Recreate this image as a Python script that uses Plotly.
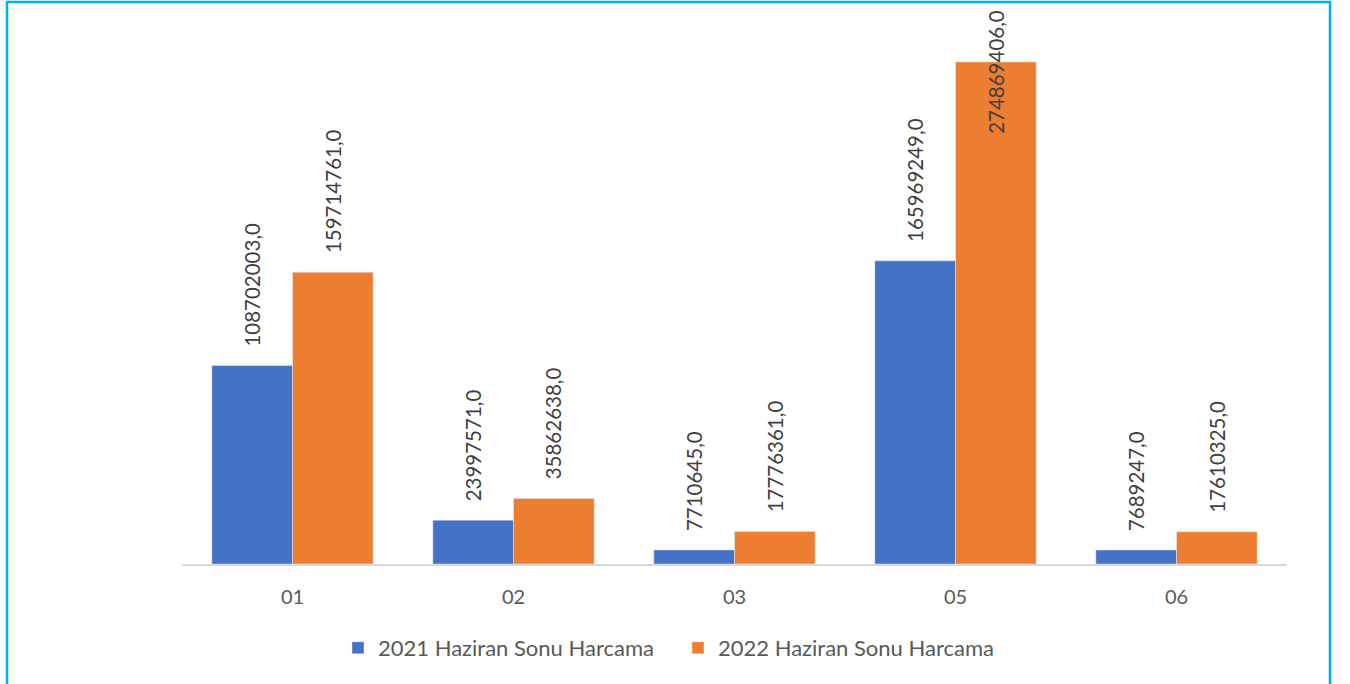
import plotly.graph_objects as go

categories = ["01", "02", "03", "05", "06"]
series_names = ["2021 Haziran Sonu Harcama", "2022 Haziran Sonu Harcama"]
values_2021 = [108702003, 23997571, 7710645, 165969249, 7689247]
values_2022 = [159714761, 35862638, 17776361, 274869406, 17610325]
label_2021 = ["108702003,0", "23997571,0", "7710645,0", "165969249,0", "7689247,0"]
label_2022 = ["159714761,0", "35862638,0", "17776361,0", "274869406,0", "17610325,0"]

colors = ["#4472C4", "#ED7D31"]
FONT = "Lato"
TXT = "#595959"
LBL = "#404040"

W, H = 1350, 684
ml, mr, mt = 182, 1350 - 1287, 16
base = 564
mb = H - base
plot_w = W - ml - mr
plot_h = H - mt - mb
y_max = 300_000_000
bargap = 0.27

fig = go.Figure()
fig.add_trace(go.Bar(x=categories, y=values_2021, name=series_names[0], marker_color=colors[0]))
fig.add_trace(go.Bar(x=categories, y=values_2022, name=series_names[1], marker_color=colors[1]))

cat_w = plot_w / len(categories)
bar_w = cat_w * (1 - bargap) / 2
label_len_px = 126
label_gap_px = 17
top_limit_px = 8
annotations = []
for vals, labels, sign in [(values_2021, label_2021, -1), (values_2022, label_2022, 1)]:
    for i, (v, t) in enumerate(zip(vals, labels)):
        bar_top_px = mt + plot_h * (1 - v / y_max)
        label_top = bar_top_px - label_gap_px - label_len_px
        if label_top >= top_limit_px:
            annotations.append(dict(x=i, y=v, xref="x", yref="y", text=t, textangle=-90,
                                    showarrow=False, yanchor="bottom", yshift=label_gap_px,
                                    xshift=sign * bar_w / 2,
                                    font=dict(family=FONT, size=20.5, color=LBL)))
        else:
            ypaper = (base - top_limit_px) / plot_h
            annotations.append(dict(x=i, y=ypaper, xref="x", yref="paper", text=t, textangle=-90,
                                    showarrow=False, yanchor="top",
                                    xshift=sign * bar_w / 2,
                                    font=dict(family=FONT, size=20.5, color=LBL)))

fig.update_layout(
    width=W, height=H,
    margin=dict(l=ml, r=mr, t=mt, b=mb, autoexpand=False),
    paper_bgcolor="white", plot_bgcolor="white",
    barmode="group", bargap=bargap, bargroupgap=0,
    font=dict(family=FONT, size=20, color=TXT),
    xaxis=dict(type="category", range=[-0.5, len(categories) - 0.5],
               showline=True, linecolor="#D9D9D9", linewidth=1.5, showgrid=False,
               ticks="outside", ticklen=14, tickcolor="rgba(0,0,0,0)",
               tickfont=dict(family=FONT, size=20, color=TXT)),
    yaxis=dict(range=[0, y_max], visible=False, showgrid=False),
    showlegend=True,
    legend=dict(orientation="h", x=(678 - ml) / plot_w, xanchor="center",
                y=(base - 648) / plot_h, yanchor="middle",
                entrywidth=295, entrywidthmode="pixels",
                font=dict(family=FONT, size=22, color=TXT)),
    annotations=annotations,
    shapes=[dict(type="rect", xref="paper", yref="paper",
                 x0=(7 - ml) / plot_w, x1=(1330 - ml) / plot_w,
                 y0=(base - 720) / plot_h, y1=(base - 2) / plot_h,
                 line=dict(color="#00B0F0", width=2.5), fillcolor="rgba(0,0,0,0)", layer="below")],
)

fig.write_html("out.html", config={"displayModeBar": False},
               post_script="document.body.style.margin='0px';")
